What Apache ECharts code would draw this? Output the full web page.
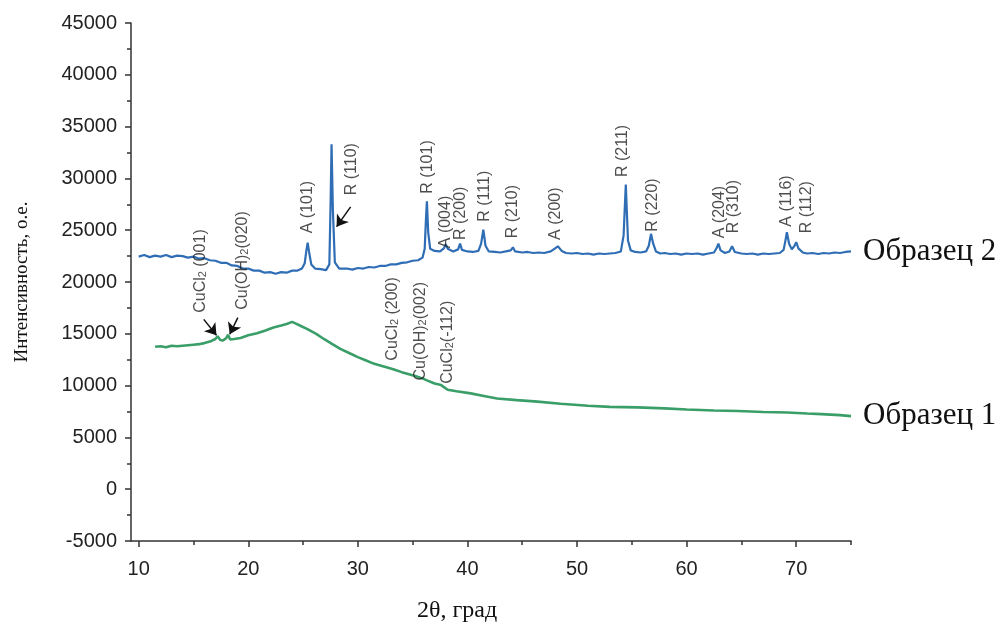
<!DOCTYPE html>
<html>
<head>
<meta charset="utf-8">
<script src="https://cdn.jsdelivr.net/npm/echarts@6/dist/echarts.min.js"></script>
<style>html,body{margin:0;padding:0;background:#fff;}#c{width:1004px;height:628px;}</style>
</head>
<body>
<div id="c"></div>
<script>
// ---- data ----
const xTickLabels = [10, 20, 30, 40, 50, 60, 70];
const xMinorTicks = [15, 25, 35, 45, 55, 65, 75];

const sample2Theta = [10.0,10.5,11.0,11.5,12.0,12.5,13.0,13.5,14.0,14.5,15.0,15.5,16.0,16.5,17.0,17.5,18.0,18.5,19.0,19.5,20.0,20.5,21.0,21.5,22.0,22.5,23.0,23.5,24.0,24.5,24.9,25.15,25.3,25.42,25.55,25.75,26.1,26.6,27.1,27.4,27.52,27.6,27.72,27.9,28.3,29.0,29.5,30.0,30.5,31.0,31.5,32.0,32.5,33.0,33.5,34.0,34.5,35.0,35.5,35.9,36.1,36.22,36.3,36.42,36.6,37.0,37.5,37.85,38.02,38.2,38.7,39.15,39.33,39.5,40.0,40.5,41.0,41.25,41.45,41.65,41.95,42.5,43.0,43.5,43.95,44.15,44.35,45.0,45.5,46.0,46.5,47.0,47.6,48.0,48.25,48.6,49.0,49.5,50.0,50.5,51.0,51.5,52.0,52.5,53.0,53.5,54.0,54.25,54.45,54.65,54.9,55.3,55.8,56.3,56.55,56.75,56.95,57.2,57.6,58.0,58.5,59.0,59.5,60.0,60.5,61.0,61.5,62.0,62.5,62.75,62.9,63.1,63.5,63.9,64.15,64.4,65.0,65.5,66.0,66.5,67.0,67.5,68.0,68.5,68.85,69.0,69.15,69.35,69.6,69.85,70.0,70.2,70.6,71.0,71.5,72.0,72.5,73.0,73.5,74.0,74.5,75.0];
const sample2Intensity = [22450,22600,22400,22550,22450,22600,22400,22550,22500,22350,22450,22250,22300,22100,22050,21850,21850,21600,21550,21300,21300,21100,21100,20900,20950,20800,20950,20900,21100,21100,21300,21800,23000,23800,22900,21700,21300,21250,21150,21700,28000,33300,27000,21900,21300,21300,21200,21350,21300,21450,21400,21550,21550,21700,21700,21850,21900,22050,22100,22350,23200,26200,27800,24800,23200,23000,22950,23250,23650,23200,22950,23150,23700,23100,22950,22900,23000,23700,25050,23500,22950,22900,22850,22950,23050,23350,22950,22850,22900,22800,22850,22800,22950,23250,23450,23000,22800,22750,22800,22700,22750,22650,22750,22700,22750,22800,22950,24500,29400,24000,23050,22900,22850,22950,23500,24650,23700,22950,22750,22800,22700,22750,22650,22750,22700,22750,22650,22750,22850,23300,23700,23050,22800,22950,23450,22900,22750,22700,22750,22650,22750,22700,22750,22800,23100,23900,24800,23700,23150,23500,23850,23250,22850,22750,22800,22700,22800,22750,22850,22800,22900,22950];

const sample1Theta = [11.5,12.0,12.5,13.0,13.5,14.0,14.5,15.0,15.5,16.0,16.5,17.0,17.2,17.45,17.7,18.0,18.15,18.35,18.7,19.3,20.0,20.8,21.5,22.3,23.0,23.5,24.0,24.3,24.8,25.4,26.2,26.9,27.6,28.4,29.2,30.0,30.7,31.5,32.2,32.85,33.0,33.3,34.0,34.5,35.3,36.0,36.1,36.3,37.0,37.6,38.2,39.0,40.3,41.5,42.7,44.5,46.4,48.5,51.0,53.0,55.5,58.0,60.0,62.5,64.7,67.0,69.2,71.0,72.3,74.0,75.0];
const sample1Intensity = [13750,13800,13700,13850,13800,13850,13900,13950,14000,14100,14250,14500,14750,14400,14350,14600,14900,14450,14500,14600,14850,15050,15300,15600,15800,15950,16150,16000,15750,15450,15000,14500,14050,13550,13150,12750,12450,12100,11900,11700,11850,11550,11300,11150,10900,10650,10800,10500,10200,10050,9600,9450,9250,9000,8750,8600,8450,8250,8050,7950,7900,7800,7700,7600,7550,7450,7400,7300,7250,7150,7050];

const seriesNames = ['Образец 2', 'Образец 1'];

// peak annotations: position of the start (bottom) of each vertical label
const peakTheta = [15.64, 19.47, 25.44, 29.4, 36.35, 38.02, 39.33, 41.52, 44.12, 48.07, 54.17, 56.9, 63.0, 64.31, 69.08, 70.91, 33.15, 35.74, 38.18];
const peakIntensity = [17030, 17320, 24700, 28370, 28530, 23260, 24060, 25820, 24220, 24060, 30130, 24860, 24220, 24700, 25340, 24700, 12410, 10490, 10170];
const peakText = ['{n|CuCl}{s|2}{n| (001)}', '{n|Cu(OH)}{s|2}{n|(020)}', '{n|A (101)}', '{n|R (110)}', '{n|R (101)}', '{n|A (004)}', '{n|R (200)}', '{n|R (111)}', '{n|R (210)}', '{n|A (200)}', '{n|R (211)}', '{n|R (220)}', '{n|A (204)}', '{n|R (310)}', '{n|A (116)}', '{n|R (112)}', '{n|CuCl}{s|2}{n| (200)}', '{n|Cu(OH)}{s|2}{n|(002)}', '{n|CuCl}{s|2}{n|(-112)}'];

// arrows: [fromTheta, fromIntensity, toTheta, toIntensity]
const arrowFromTheta = [29.34, 15.94, 19.05];
const arrowFromIntensity = [27256, 16392, 16555];
const arrowToTheta = [28.06, 17.1, 18.31];
const arrowToIntensity = [25340, 14860, 14955];

// ---- build chart ----
const zip = (a, b) => a.map((v, i) => [v, b[i]]);
const axisColor = '#333';
const textColor = '#222';

const chart = echarts.init(document.getElementById('c'), null, {renderer: 'canvas'});
chart.setOption({
  backgroundColor: '#fff',
  animation: false,
  grid: {left: 131, right: 153, top: 23, bottom: 83, containLabel: false},
  xAxis: [{
    type: 'value', min: 9.3, max: 75,
    name: '2θ, град', nameLocation: 'middle', nameGap: 58,
    nameTextStyle: {fontFamily: 'Liberation Serif', fontSize: 24, color: '#111', padding: [0, 68, 0, 0]},
    axisLine: {show: true, onZero: false, lineStyle: {color: axisColor, width: 1.5}},
    axisTick: {show: true, inside: false, length: 6, customValues: xTickLabels, lineStyle: {color: axisColor, width: 1.5}},
    axisLabel: {show: true, customValues: xTickLabels, margin: 18, fontFamily: 'Liberation Sans', fontSize: 20, color: textColor},
    splitLine: {show: false}
  }, {
    type: 'value', min: 9.3, max: 75, position: 'bottom',
    axisLine: {show: false, onZero: false},
    axisTick: {show: true, inside: false, length: 4, customValues: xMinorTicks, lineStyle: {color: axisColor, width: 1.5}},
    axisLabel: {show: false},
    splitLine: {show: false}
  }],
  yAxis: {
    type: 'value', min: -5000, max: 45000, interval: 5000,
    name: 'Интенсивность, о.е.', nameLocation: 'middle', nameGap: 99,
    nameTextStyle: {fontFamily: 'Liberation Serif', fontSize: 19, color: '#111'},
    axisLine: {show: true, onZero: false, lineStyle: {color: axisColor, width: 1.5}},
    axisTick: {show: true, inside: false, length: 6, lineStyle: {color: axisColor, width: 1.5}},
    minorTick: {show: true, splitNumber: 2, length: 4, lineStyle: {color: axisColor, width: 1.5}},
    axisLabel: {margin: 14, fontFamily: 'Liberation Sans', fontSize: 20, color: textColor, formatter: v => String(v)},
    splitLine: {show: false}
  },
  series: [{
    name: seriesNames[0], type: 'line', data: zip(sample2Theta, sample2Intensity),
    showSymbol: false, symbol: 'none', smooth: false,
    lineStyle: {color: '#2f6db5', width: 2.2},
    endLabel: {show: true, formatter: '{a}', distance: 12, fontFamily: 'Liberation Serif', fontSize: 31, color: '#111'},
    z: 3
  }, {
    name: seriesNames[1], type: 'line', data: zip(sample1Theta, sample1Intensity),
    showSymbol: false, symbol: 'none', smooth: false,
    lineStyle: {color: '#3a9e68', width: 2.6},
    endLabel: {show: true, formatter: '{a}', distance: 12, fontFamily: 'Liberation Serif', fontSize: 31, color: '#111'},
    z: 3
  }, {
    name: 'labels', type: 'scatter', symbolSize: 0, silent: true, z: 5,
    data: peakTheta.map((t, i) => ({value: [t, peakIntensity[i]], label: {formatter: peakText[i]}})),
    label: {
      show: true, position: 'inside', rotate: 90, align: 'left', verticalAlign: 'middle',
      rich: {
        n: {fontFamily: 'Liberation Sans', fontSize: 16, lineHeight: 16, verticalAlign: 'top', color: textColor},
        s: {fontFamily: 'Liberation Sans', fontSize: 11, lineHeight: 11, verticalAlign: 'bottom', padding: [9, 0, 0, 0], color: textColor}
      }
    },
    markLine: {
      silent: true, symbol: ['none', 'arrow'], symbolSize: 11,
      label: {show: false},
      lineStyle: {color: '#111', width: 1.5, type: 'solid'},
      data: arrowFromTheta.map((t, i) => [
        {coord: [t, arrowFromIntensity[i]]},
        {coord: [arrowToTheta[i], arrowToIntensity[i]]}
      ])
    }
  }]
});
</script>
</body>
</html>
